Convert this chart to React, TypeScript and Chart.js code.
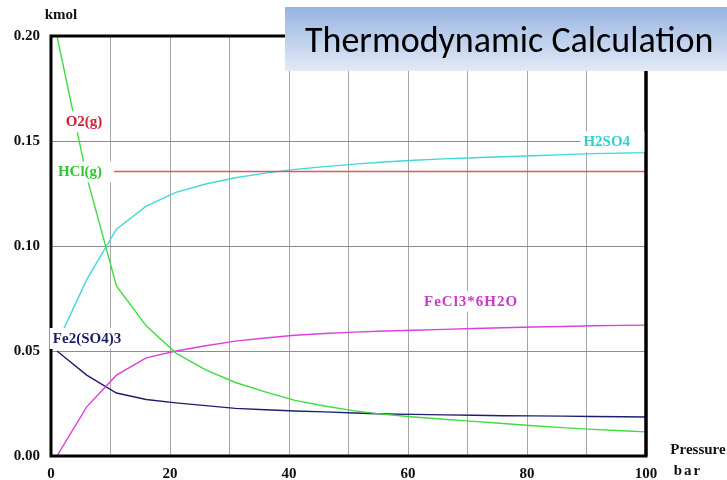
import React, { useEffect, useRef } from 'react';
import { Chart, registerables } from 'chart.js';

Chart.register(...registerables);

// ---- data ----
const pressure = [1, 6, 11, 16, 21, 26, 31, 36, 41, 46, 51, 56, 61, 66, 71, 76, 81, 86, 91, 96, 100];
const o2 = [0.1355, 0.1355, 0.1355, 0.1355, 0.1355, 0.1355, 0.1355, 0.1355, 0.1355, 0.1355, 0.1355, 0.1355, 0.1355, 0.1355, 0.1355, 0.1355, 0.1355, 0.1355, 0.1355, 0.1355, 0.1355];
const hcl = [0.2, 0.133, 0.081, 0.062, 0.049, 0.041, 0.035, 0.0305, 0.0265, 0.0238, 0.0215, 0.0198, 0.0186, 0.0175, 0.0165, 0.0155, 0.0144, 0.0135, 0.0127, 0.012, 0.0115];
const h2so4 = [0.0535, 0.084, 0.108, 0.119, 0.1255, 0.1295, 0.1325, 0.1347, 0.1365, 0.1378, 0.139, 0.14, 0.1408, 0.1415, 0.142, 0.1425, 0.143, 0.1435, 0.144, 0.1443, 0.1445];
const fecl3 = [0.0, 0.0234, 0.0385, 0.0467, 0.05, 0.0525, 0.0547, 0.0562, 0.0575, 0.0583, 0.059, 0.0595, 0.0599, 0.0603, 0.0607, 0.0611, 0.0614, 0.0617, 0.062, 0.0622, 0.0623];
const fe2so43 = [0.05, 0.0385, 0.03, 0.0269, 0.0253, 0.024, 0.0227, 0.022, 0.0214, 0.021, 0.0205, 0.02, 0.0198, 0.0196, 0.0194, 0.0192, 0.0191, 0.019, 0.0188, 0.0187, 0.0186];
const seriesNames = ['O2(g)', 'HCl(g)', 'H2SO4', 'FeCl3*6H2O', 'Fe2(SO4)3'];
const yTickValues = [0, 0.05, 0.1, 0.15, 0.2];
const xLabelledTicks = [0, 20, 40, 60, 80, 100];
const titleText = 'Thermodynamic Calculation';
const yUnit = 'kmol';
const xUnitLines = ['Pressure', 'bar'];

const SERIF = '"Liberation Serif", "DejaVu Serif", serif';

// label placement (data coordinates) and colours
const labelStyles = [
  { x: 5.55, y: 0.1594, color: '#cc2236', spacing: 0 },
  { x: 4.87, y: 0.1355, color: '#33c633', spacing: 0, padRight: 9 },
  { x: 93.4, y: 0.1499, color: '#2fd0d0', spacing: 0, padRight: 12 },
  { x: 70.6, y: 0.0739, color: '#cc38cc', spacing: 1 },
  { x: 6.05, y: 0.0562, color: '#1c1c6a', spacing: 0 },
];

const overlayPlugin = {
  id: 'overlay',
  afterDraw(chart: any) {
    const ctx = chart.ctx as CanvasRenderingContext2D;
    const ca = chart.chartArea;
    const xs = chart.scales.x;
    const ys = chart.scales.y;
    ctx.save();

    // frame
    ctx.strokeStyle = '#000';
    ctx.lineWidth = 3;
    ctx.strokeRect(ca.left, ca.top, ca.right - ca.left, ca.bottom - ca.top);

    // series labels with white background
    ctx.font = `bold 15px ${SERIF}`;
    ctx.textBaseline = 'middle';
    ctx.textAlign = 'left';
    seriesNames.forEach((name, i) => {
      const st: any = labelStyles[i];
      (ctx as any).letterSpacing = `${st.spacing}px`;
      const w = ctx.measureText(name).width;
      const cx = xs.getPixelForValue(st.x);
      const cy = ys.getPixelForValue(st.y);
      const x0 = cx - w / 2;
      ctx.fillStyle = '#fff';
      ctx.fillRect(x0 - 3, cy - 10, w + 6 + (st.padRight || 0), 21);
      ctx.fillStyle = st.color;
      ctx.fillText(name, x0, cy + 1);
    });
    (ctx as any).letterSpacing = '0px';

    // redraw right frame edge (label boxes may touch it)
    ctx.strokeStyle = '#000';
    ctx.lineWidth = 3;
    ctx.beginPath();
    ctx.moveTo(ca.right, ca.top);
    ctx.lineTo(ca.right, ca.bottom);
    ctx.stroke();

    // units
    ctx.fillStyle = '#111';
    ctx.textAlign = 'center';
    ctx.fillText(yUnit, 61, 15);
    ctx.fillText(xUnitLines[0], 698, 450);
    (ctx as any).letterSpacing = '2px';
    ctx.fillText(xUnitLines[1], 688, 471);
    (ctx as any).letterSpacing = '0px';

    // title box
    const bx = 285, by = 7, bw = chart.width - bx, bh = 64;
    const g = ctx.createLinearGradient(0, by, 0, by + bh);
    g.addColorStop(0, '#98b4e2');
    g.addColorStop(1, '#e2eaf6');
    ctx.fillStyle = g;
    ctx.fillRect(bx, by, bw, bh);
    let size = 36;
    const fam = 'Carlito, Calibri, "Open Sans", "Noto Sans", sans-serif';
    ctx.font = `${size}px ${fam}`;
    const tw = ctx.measureText(titleText).width;
    size = Math.min(36, (size * 417) / tw);
    ctx.font = `${size}px ${fam}`;
    ctx.fillStyle = '#000';
    ctx.textAlign = 'left';
    ctx.textBaseline = 'alphabetic';
    ctx.fillText(titleText, 305, 52);

    ctx.restore();
  },
};

export default function App() {
  const ref = useRef<HTMLCanvasElement | null>(null);

  useEffect(() => {
    if (!ref.current) return;
    const mk = (vals: number[]) => pressure.map((p, i) => ({ x: p, y: vals[i] }));
    const ds = (label: string, vals: number[], color: string) => ({
      label,
      data: mk(vals),
      borderColor: color,
      backgroundColor: color,
      borderWidth: 1.4,
      pointRadius: 0,
      tension: 0,
      fill: false,
    });
    const chart = new Chart(ref.current, {
      type: 'line',
      data: {
        datasets: [
          ds(seriesNames[0], o2, '#dd5a5a'),
          ds(seriesNames[1], hcl, '#3fdc3f'),
          ds(seriesNames[2], h2so4, '#3fdada'),
          ds(seriesNames[3], fecl3, '#dc3fdc'),
          ds(seriesNames[4], fe2so43, '#1e1e6e'),
        ],
      },
      options: {
        animation: false,
        responsive: true,
        maintainAspectRatio: false,
        layout: { padding: { left: 0, top: 36, right: 81, bottom: 0 } },
        plugins: { legend: { display: false }, tooltip: { enabled: false } },
        scales: {
          x: {
            type: 'linear',
            min: 0,
            max: 100,
            afterFit: (s: any) => { s.height = 24; },
            afterBuildTicks: (s: any) => {
              const t = [];
              for (let v = 0; v <= 100; v += 10) t.push({ value: v });
              s.ticks = t;
            },
            ticks: {
              autoSkip: false,
              maxRotation: 0,
              padding: 9,
              color: '#111',
              font: { family: SERIF, size: 15, weight: 'bold' },
              callback: (v: any) => (xLabelledTicks.includes(Number(v)) ? String(v) : ''),
            },
            grid: { color: '#a6a6a6', drawTicks: false, lineWidth: 1 },
            border: { display: false },
          },
          y: {
            type: 'linear',
            min: 0,
            max: 0.2,
            afterFit: (s: any) => { s.width = 51; },
            afterBuildTicks: (s: any) => {
              s.ticks = yTickValues.map((v) => ({ value: v }));
            },
            ticks: {
              padding: 11,
              color: '#111',
              font: { family: SERIF, size: 15, weight: 'bold' },
              callback: (v: any) => Number(v).toFixed(2),
            },
            grid: { color: '#8c8c8c', drawTicks: false, lineWidth: 1 },
            border: { display: false },
          },
        },
      },
      plugins: [overlayPlugin],
    } as any);
    return () => chart.destroy();
  }, []);

  return (
    <div style={{ position: 'fixed', left: 0, top: 0, width: 727, height: 480, background: '#fff' }}>
      <canvas ref={ref} />
    </div>
  );
}
